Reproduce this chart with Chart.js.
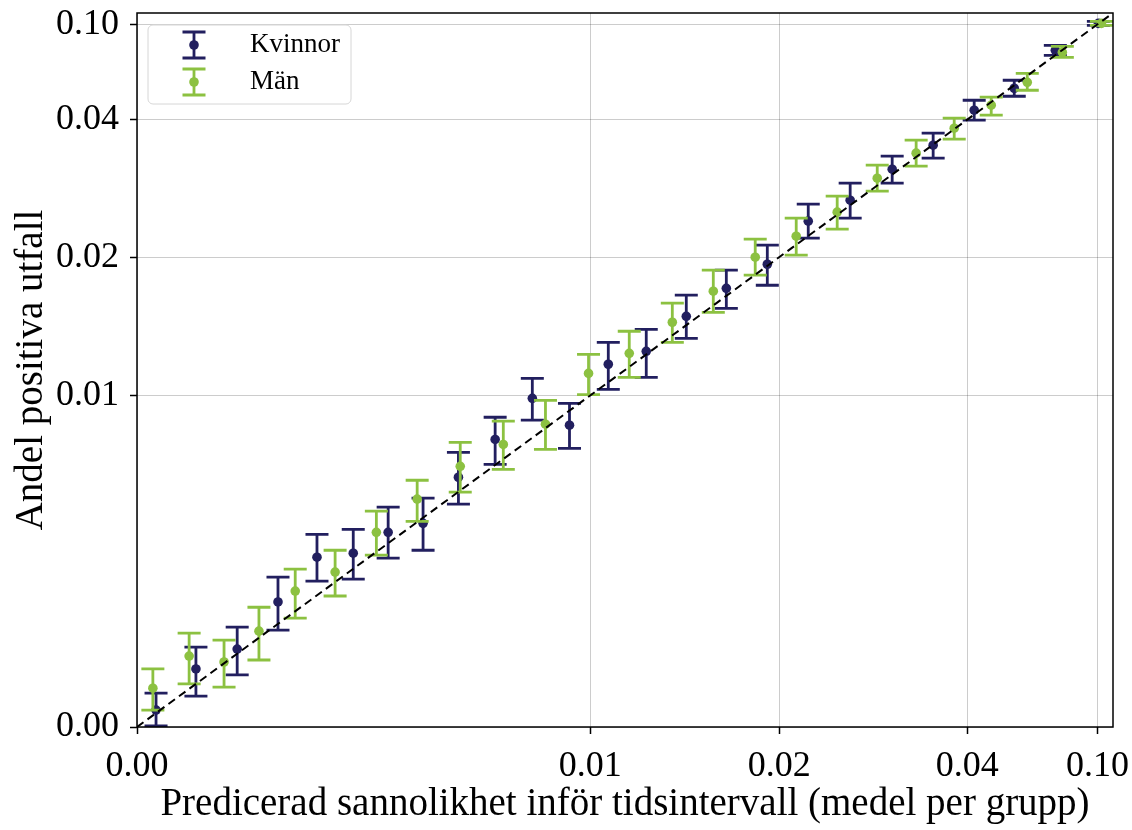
<!DOCTYPE html>
<html>
<head>
<meta charset="utf-8">
<script src="https://cdn.jsdelivr.net/npm/chart.js@4.4.0/dist/chart.umd.min.js"></script>
<style>
  html, body { margin: 0; background: #fff; }
  #wrap { width: 1132px; height: 830px; }
</style>
</head>
<body>
<div id="wrap"><canvas id="calib"></canvas></div>
<script>
// tick values shown on both axes
const TICK_VALUES = [0, 0.01, 0.02, 0.04, 0.10];
const TICK_LABELS = ['0.00', '0.01', '0.02', '0.04', '0.10'];
// where each tick sits along the (warped) axis, as a fraction of its length
const WARP_POS = [0, 0.4645, 0.658, 0.8506, 0.984];

// Kvinnor: predicted mean, observed share, lower / upper interval
const kvPred = [0.00042, 0.00130, 0.00221, 0.00311, 0.00397, 0.00477, 0.00554, 0.00631, 0.00709, 0.00790, 0.00872, 0.00954, 0.01095, 0.01296, 0.01508, 0.01720, 0.01937, 0.02309, 0.02755, 0.03202, 0.03638, 0.04323, 0.06169, 0.08062, 0.10046];
const kvObs = [0.00051, 0.00175, 0.00235, 0.00377, 0.00512, 0.00524, 0.00587, 0.00614, 0.00753, 0.00867, 0.00991, 0.00910, 0.01225, 0.01319, 0.01572, 0.01775, 0.01949, 0.02524, 0.02829, 0.03280, 0.03629, 0.04597, 0.05979, 0.08366, 0.10063];
const kvLo = [0.00003, 0.00093, 0.00157, 0.00292, 0.00440, 0.00446, 0.00509, 0.00533, 0.00672, 0.00792, 0.00925, 0.00840, 0.01043, 0.01130, 0.01413, 0.01630, 0.01797, 0.02276, 0.02567, 0.03076, 0.03440, 0.03993, 0.05476, 0.08052, 0.09937];
const kvHi = [0.00102, 0.00241, 0.00301, 0.00452, 0.00581, 0.00596, 0.00663, 0.00690, 0.00828, 0.00934, 0.01123, 0.00976, 0.01384, 0.01478, 0.01725, 0.01906, 0.02175, 0.02771, 0.03076, 0.03469, 0.03804, 0.05225, 0.06482, 0.08681, 0.10188];

// Män
const manPred = [0.00035, 0.00115, 0.00192, 0.00269, 0.00349, 0.00437, 0.00528, 0.00618, 0.00713, 0.00808, 0.00901, 0.00996, 0.01206, 0.01434, 0.01651, 0.01873, 0.02181, 0.02617, 0.03043, 0.03457, 0.03862, 0.05108, 0.06769, 0.08385, 0.10185];
const manObs = [0.00117, 0.00214, 0.00196, 0.00289, 0.00410, 0.00467, 0.00587, 0.00687, 0.00786, 0.00852, 0.00913, 0.01159, 0.01304, 0.01529, 0.01754, 0.02000, 0.02305, 0.02655, 0.03149, 0.03513, 0.03876, 0.04911, 0.06356, 0.08241, 0.10063];
const manLo = [0.00051, 0.00130, 0.00120, 0.00202, 0.00328, 0.00395, 0.00518, 0.00620, 0.00708, 0.00777, 0.00837, 0.01005, 0.01130, 0.01384, 0.01601, 0.01870, 0.02029, 0.02407, 0.02960, 0.03324, 0.03716, 0.04283, 0.05853, 0.07927, 0.09937];
const manHi = [0.00175, 0.00283, 0.00262, 0.00361, 0.00476, 0.00533, 0.00651, 0.00744, 0.00858, 0.00922, 0.00985, 0.01297, 0.01464, 0.01667, 0.01906, 0.02262, 0.02567, 0.02887, 0.03338, 0.03702, 0.04094, 0.05414, 0.06921, 0.08618, 0.10188];

// perfect calibration line end points
const diagonal = [0, 0.1072];

const NAVY = '#221f5f';
const GREEN = '#8cc141';
const SERIF = '"Liberation Serif", "Times New Roman", serif';

// piecewise-linear warp of a probability onto the axis fraction
function warp(v) {
    const n = TICK_VALUES.length;
    let i = 1;
    while (i < n - 1 && v > TICK_VALUES[i]) i++;
    const t = (v - TICK_VALUES[i - 1]) / (TICK_VALUES[i] - TICK_VALUES[i - 1]);
    return WARP_POS[i - 1] + t * (WARP_POS[i] - WARP_POS[i - 1]);
}

function points(xs, ys) {
    return xs.map((x, i) => ({ x: warp(x), y: warp(ys[i]) }));
}

function drawErrorBar(ctx, px, top, bot) {
    ctx.beginPath();
    ctx.moveTo(px, top); ctx.lineTo(px, bot);
    ctx.moveTo(px - 11.5, top); ctx.lineTo(px + 11.5, top);
    ctx.moveTo(px - 11.5, bot); ctx.lineTo(px + 11.5, bot);
    ctx.stroke();
}

const errorBars = {
    id: 'errorBars',
    beforeDatasetDraw(chart, args) {
        const ds = chart.data.datasets[args.index];
        if (!ds.errLo) return;
        const { ctx, chartArea: a, scales: { x, y } } = chart;
        ctx.save();
        ctx.beginPath();
        ctx.rect(a.left, a.top, a.right - a.left, a.bottom - a.top);
        ctx.clip();
        ctx.strokeStyle = ds.backgroundColor;
        ctx.lineWidth = 2.8;
        ds.data.forEach((p, i) => {
            drawErrorBar(ctx, x.getPixelForValue(p.x),
                y.getPixelForValue(warp(ds.errHi[i])),
                y.getPixelForValue(warp(ds.errLo[i])));
        });
        ctx.restore();
    }
};

const legendBox = {
    id: 'legendBox',
    afterDatasetsDraw(chart) {
        const { ctx, chartArea: a } = chart;
        const x0 = a.left + 11, y0 = a.top + 12;
        ctx.save();
        ctx.beginPath();
        ctx.roundRect(x0, y0, 203, 79, 5);
        ctx.fillStyle = 'rgba(255,255,255,0.85)';
        ctx.fill();
        ctx.strokeStyle = '#d6d6d6';
        ctx.lineWidth = 1;
        ctx.stroke();
        const entries = chart.data.datasets.filter(d => d.errLo);
        entries.forEach((d, i) => {
            const cy = y0 + 20 + i * 37;
            const cx = x0 + 46;
            ctx.strokeStyle = d.backgroundColor;
            ctx.lineWidth = 2.8;
            drawErrorBar(ctx, cx, cy - 13, cy + 13);
            ctx.fillStyle = d.backgroundColor;
            ctx.beginPath();
            ctx.arc(cx, cy, 4.8, 0, Math.PI * 2);
            ctx.fill();
            ctx.fillStyle = '#000';
            ctx.font = '27px ' + SERIF;
            ctx.textBaseline = 'middle';
            ctx.fillText(d.label, x0 + 102, cy);
        });
        ctx.restore();
    }
};

const frame = {
    id: 'frame',
    afterDraw(chart) {
        const { ctx, chartArea: a } = chart;
        ctx.save();
        ctx.strokeStyle = '#000';
        ctx.lineWidth = 1.5;
        ctx.strokeRect(a.left, a.top, a.right - a.left, a.bottom - a.top);
        ctx.restore();
    }
};

function warpedAxis(title, fit) {
    return {
        type: 'linear',
        min: 0,
        max: 1,
        afterBuildTicks: s => { s.ticks = TICK_VALUES.map(v => ({ value: warp(v) })); },
        afterFit: fit,
        ticks: {
            callback: (v, i) => TICK_LABELS[i],
            autoSkip: false,
            maxRotation: 0,
            color: '#000',
            font: { size: 36, family: SERIF },
            padding: 11
        },
        grid: { color: 'rgba(0,0,0,0.2)', lineWidth: 1, tickLength: 7, tickColor: '#000', tickWidth: 1.5 },
        border: { display: false },
        title: { display: true, text: title, color: '#000', font: { size: 39, family: SERIF }, padding: { top: 8, bottom: 2 } }
    };
}

Chart.defaults.font.family = SERIF;

new Chart(document.getElementById('calib'), {
    type: 'scatter',
    data: {
        datasets: [
            {
                type: 'line',
                label: 'diagonal',
                data: points(diagonal, diagonal),
                borderColor: '#000',
                borderWidth: 2,
                borderDash: [8, 5],
                pointRadius: 0,
                fill: false,
                order: 0
            },
            {
                label: 'Kvinnor',
                data: points(kvPred, kvObs),
                errLo: kvLo,
                errHi: kvHi,
                backgroundColor: NAVY,
                borderWidth: 0,
                pointRadius: 4.8,
                pointHoverRadius: 4.8,
                order: 2
            },
            {
                label: 'Män',
                data: points(manPred, manObs),
                errLo: manLo,
                errHi: manHi,
                backgroundColor: GREEN,
                borderWidth: 0,
                pointRadius: 4.8,
                pointHoverRadius: 4.8,
                order: 1
            }
        ]
    },
    options: {
        responsive: true,
        maintainAspectRatio: false,
        animation: false,
        layout: { padding: { top: 13, right: 19, left: 0, bottom: 0 } },
        plugins: { legend: { display: false }, tooltip: { enabled: false } },
        scales: {
            x: warpedAxis('Predicerad sannolikhet inför tidsintervall (medel per grupp)', s => {
                s.height = 103;
                s.paddingLeft = 0;
                s.paddingRight = 0;
            }),
            y: warpedAxis('Andel positiva utfall', s => {
                s.width = 137;
                s.paddingTop = 0;
                s.paddingBottom = 0;
            })
        }
    },
    plugins: [errorBars, legendBox, frame]
});
</script>
</body>
</html>
